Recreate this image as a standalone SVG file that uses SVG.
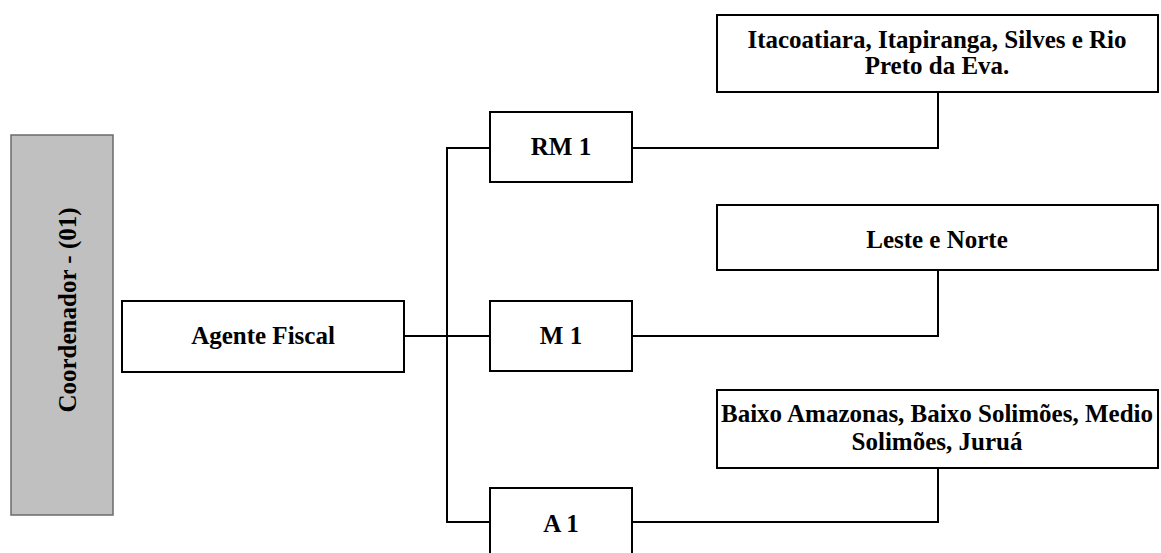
<svg xmlns="http://www.w3.org/2000/svg" width="1161" height="553" viewBox="0 0 1161 553">
<style>
.box{fill:#fff;stroke:#000;stroke-width:2}
.t{font-family:"Liberation Serif","Times New Roman",serif;font-weight:bold;font-size:25px;fill:#000;text-anchor:middle}
.c{fill:none;stroke:#000;stroke-width:2}
</style>
<rect width="1161" height="553" fill="#fff"/>
<g id="coordenador">
<rect x="11" y="135" width="102" height="380" fill="#c0c0c0" stroke="#6b6b6b" stroke-width="1.5"/>
<text class="t" transform="translate(76,310) rotate(-90)">Coordenador - (01)</text>
</g>
<g id="connectors">
<line class="c" x1="404" y1="336" x2="490" y2="336"/>
<polyline class="c" points="490,148 447,148 447,522 490,522"/>
<polyline class="c" points="632,148 938,148 938,92"/>
<polyline class="c" points="632,336 938,336 938,270"/>
<polyline class="c" points="632,522 938,522 938,468"/>
</g>
<g id="agente">
<rect class="box" x="122" y="301" width="282" height="71"/>
<text class="t" x="263" y="344">Agente Fiscal</text>
</g>
<g id="rm1">
<rect class="box" x="490" y="112" width="142" height="70"/>
<text class="t" x="561" y="155">RM 1</text>
</g>
<g id="m1">
<rect class="box" x="490" y="301" width="142" height="70"/>
<text class="t" x="561" y="344">M 1</text>
</g>
<g id="a1">
<rect class="box" x="490" y="488" width="142" height="70"/>
<text class="t" x="561" y="532">A 1</text>
</g>
<g id="itacoatiara">
<rect class="box" x="717" y="15" width="441" height="77"/>
<text class="t" x="937" y="48">Itacoatiara, Itapiranga, Silves e Rio</text>
<text class="t" x="937" y="74">Preto da Eva.</text>
</g>
<g id="leste">
<rect class="box" x="717" y="205" width="441" height="65"/>
<text class="t" x="937" y="248">Leste e Norte</text>
</g>
<g id="baixo">
<rect class="box" x="717" y="390" width="441" height="78"/>
<text class="t" x="937" y="422" textLength="432" lengthAdjust="spacingAndGlyphs">Baixo Amazonas, Baixo Solimões, Medio</text>
<text class="t" x="937" y="450">Solimões, Juruá</text>
</g>
</svg>
